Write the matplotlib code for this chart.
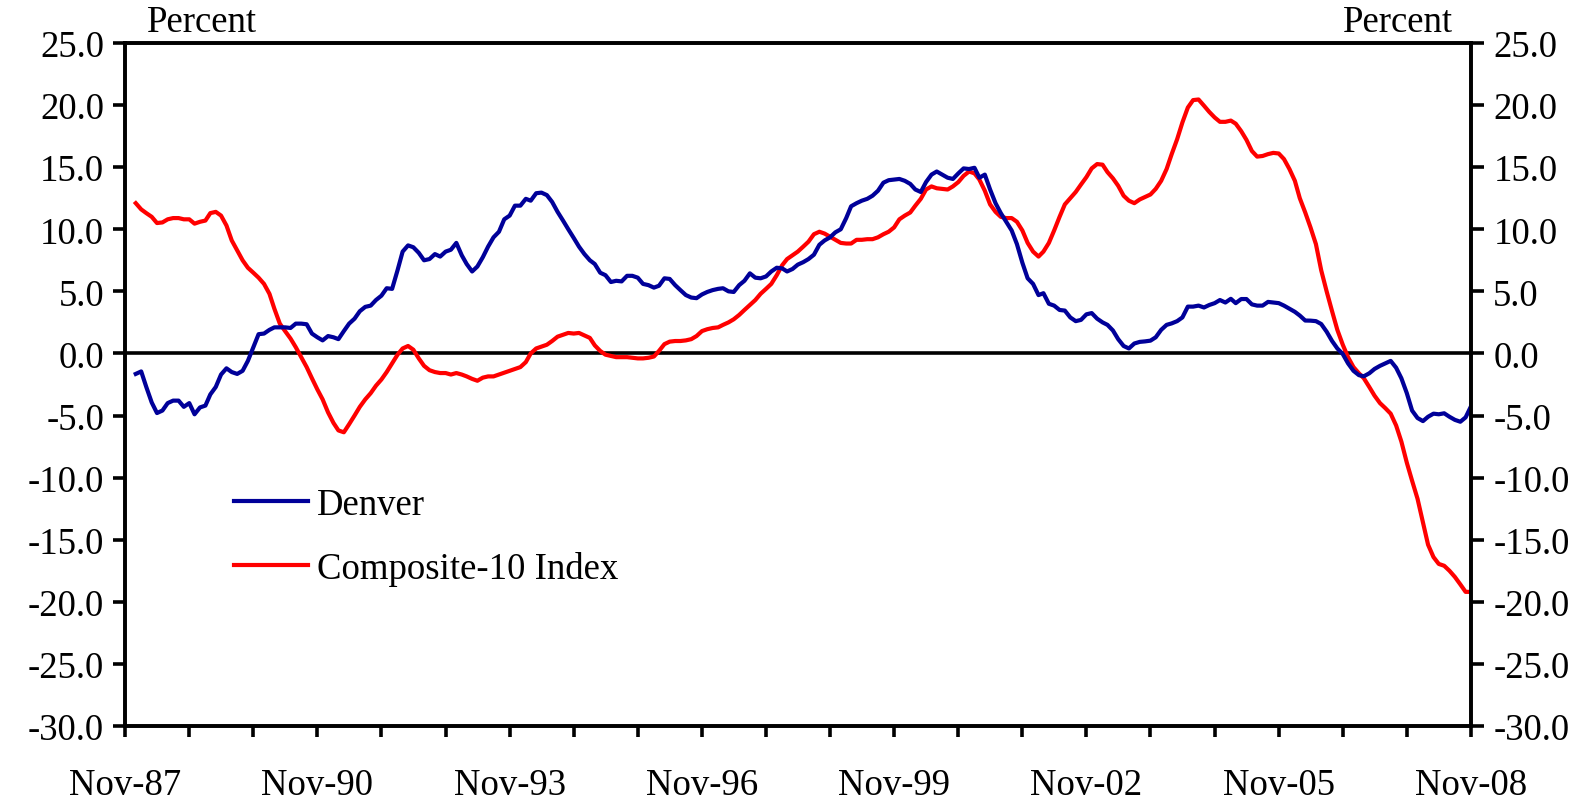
import pandas as pd
import matplotlib
matplotlib.use("Agg")
import matplotlib.pyplot as plt
import matplotlib.dates as mdates
from datetime import datetime

plt.rcParams['font.family'] = ['Liberation Serif', 'DejaVu Serif']
plt.rcParams['axes.unicode_minus'] = False

# monthly year-over-year % change, Jan-88 .. Nov-08 (one row per year)
denver = [
    -1.65, -1.45, -2.7, -3.95, -4.8, -4.6, -4.0, -3.8, -3.8, -4.3, -4.0, -4.9,      # 1988
    -4.35, -4.2, -3.3, -2.7, -1.7, -1.2, -1.5, -1.65, -1.4, -0.6, 0.5, 1.55,        # 1989
    1.6, 1.9, 2.1, 2.1, 2.1, 2.05, 2.4, 2.4, 2.35, 1.6, 1.3, 1.05,                  # 1990
    1.4, 1.3, 1.15, 1.8, 2.4, 2.8, 3.4, 3.75, 3.85, 4.3, 4.65, 5.25,                # 1991
    5.2, 6.7, 8.2, 8.7, 8.55, 8.1, 7.5, 7.6, 8.0, 7.8, 8.2, 8.35,                   # 1992
    8.9, 7.9, 7.2, 6.6, 7.0, 7.75, 8.6, 9.35, 9.8, 10.8, 11.1, 11.9,                # 1993
    11.9, 12.45, 12.3, 12.9, 12.95, 12.75, 12.2, 11.4, 10.7, 10.0, 9.3, 8.6,        # 1994
    8.0, 7.5, 7.2, 6.5, 6.3, 5.75, 5.85, 5.8, 6.25, 6.25, 6.1, 5.6,                 # 1995
    5.5, 5.3, 5.45, 6.05, 6.0, 5.5, 5.1, 4.7, 4.5, 4.45, 4.75, 4.95,                # 1996
    5.1, 5.2, 5.25, 5.0, 4.95, 5.5, 5.85, 6.45, 6.1, 6.05, 6.2, 6.6,                # 1997
    6.9, 6.85, 6.6, 6.8, 7.15, 7.35, 7.6, 7.95, 8.75, 9.1, 9.35, 9.75,              # 1998
    10.0, 10.9, 11.85, 12.1, 12.3, 12.45, 12.7, 13.1, 13.75, 13.95, 14.0, 14.05,    # 1999
    13.9, 13.65, 13.2, 13.0, 13.8, 14.4, 14.65, 14.4, 14.15, 14.05, 14.5, 14.9,     # 2000
    14.85, 14.95, 14.15, 14.4, 13.2, 12.1, 11.3, 10.6, 9.9, 8.8, 7.3, 6.05,         # 2001
    5.6, 4.7, 4.85, 4.0, 3.85, 3.5, 3.45, 2.9, 2.6, 2.7, 3.15, 3.25,                # 2002
    2.8, 2.5, 2.3, 1.85, 1.15, 0.6, 0.4, 0.8, 0.93, 0.97, 1.03, 1.3,                # 2003
    1.9, 2.3, 2.42, 2.6, 2.9, 3.77, 3.77, 3.85, 3.7, 3.9, 4.05, 4.3,                # 2004
    4.1, 4.4, 4.05, 4.38, 4.38, 3.95, 3.85, 3.85, 4.15, 4.1, 4.05, 3.85,            # 2005
    3.6, 3.35, 3.05, 2.65, 2.64, 2.6, 2.37, 1.75, 1.0, 0.4, -0.05, -0.8,            # 2006
    -1.4, -1.75, -1.84, -1.6, -1.25, -1.0, -0.8, -0.6, -1.15, -2.0, -3.2, -4.6,     # 2007
    -5.2, -5.45, -5.1, -4.85, -4.9, -4.82, -5.1, -5.35, -5.5, -5.15, -4.25,         # 2008
]

composite10 = [
    12.1, 11.6, 11.3, 11.0, 10.5, 10.55, 10.8, 10.9, 10.9, 10.8, 10.8, 10.45,       # 1988
    10.6, 10.7, 11.3, 11.4, 11.1, 10.3, 9.1, 8.3, 7.5, 6.9, 6.5, 6.1,               # 1989
    5.6, 4.8, 3.6, 2.4, 1.8, 1.2, 0.5, -0.3, -1.1, -2.0, -2.9, -3.7,                # 1990
    -4.75, -5.6, -6.2, -6.35, -5.7, -5.0, -4.3, -3.7, -3.2, -2.6, -2.1, -1.5,       # 1991
    -0.8, -0.1, 0.4, 0.6, 0.3, -0.4, -1.0, -1.35, -1.5, -1.58, -1.58, -1.7,         # 1992
    -1.58, -1.7, -1.85, -2.05, -2.2, -1.95, -1.85, -1.85, -1.7, -1.55, -1.4, -1.25, # 1993
    -1.1, -0.7, 0.0, 0.4, 0.55, 0.7, 1.0, 1.35, 1.5, 1.65, 1.6, 1.65,               # 1994
    1.45, 1.25, 0.65, 0.2, -0.1, -0.2, -0.3, -0.3, -0.3, -0.35, -0.4, -0.4,         # 1995
    -0.35, -0.25, 0.2, 0.75, 0.95, 1.0, 1.0, 1.05, 1.15, 1.4, 1.8, 1.95,            # 1996
    2.05, 2.1, 2.3, 2.5, 2.75, 3.1, 3.5, 3.9, 4.3, 4.8, 5.2, 5.6,                   # 1997
    6.3, 7.1, 7.6, 7.9, 8.2, 8.6, 9.0, 9.6, 9.8, 9.65, 9.4, 9.15,                   # 1998
    8.9, 8.85, 8.85, 9.15, 9.15, 9.2, 9.2, 9.35, 9.6, 9.8, 10.15, 10.8,             # 1999
    11.1, 11.35, 11.9, 12.45, 13.2, 13.45, 13.3, 13.25, 13.2, 13.45, 13.8, 14.3,    # 2000
    14.65, 14.5, 14.0, 13.1, 12.0, 11.4, 11.0, 10.9, 10.9, 10.6, 9.9, 8.9,          # 2001
    8.2, 7.8, 8.2, 8.9, 9.9, 11.0, 12.0, 12.5, 13.0, 13.6, 14.2, 14.9,              # 2002
    15.25, 15.2, 14.6, 14.1, 13.5, 12.7, 12.3, 12.1, 12.4, 12.6, 12.8, 13.25,       # 2003
    13.9, 14.85, 16.05, 17.25, 18.6, 19.8, 20.4, 20.45, 19.95, 19.45, 19.0, 18.65,  # 2004
    18.65, 18.75, 18.5, 17.9, 17.2, 16.3, 15.85, 15.9, 16.05, 16.15, 16.1, 15.65,   # 2005
    14.85, 13.9, 12.5, 11.35, 10.15, 8.8, 6.7, 5.0, 3.4, 1.9, 0.7, -0.3,            # 2006
    -1.1, -1.6, -2.0, -2.7, -3.4, -4.0, -4.4, -4.85, -5.8, -7.1, -8.8, -10.25,      # 2007
    -11.7, -13.6, -15.4, -16.4, -16.95, -17.1, -17.5, -18.0, -18.6, -19.2, -19.2,   # 2008
]

months = pd.date_range("1988-01-01", "2008-11-01", freq="MS")
y_ticks = [25, 20, 15, 10, 5, 0, -5, -10, -15, -20, -25, -30]
tick_fs = 26.5

fig = plt.figure(figsize=(15.91, 8.04), dpi=100)
ax = fig.add_axes([0.0786, 0.0958, 0.8460, 0.8495])

ax.axhline(0, color='black', lw=2.6, zorder=1)
ax.plot(months, denver, color='#000099', lw=3.0, label='Denver', zorder=3)
ax.plot(months, composite10, color='#ff0000', lw=3.0, label='Composite-10 Index', zorder=2)

ax.set_xlim(datetime(1987, 11, 1), datetime(2008, 11, 1))
ax.set_ylim(-30, 25)
ax.set_yticks(y_ticks)
ax.yaxis.set_major_formatter(matplotlib.ticker.FormatStrFormatter('%.1f'))

ax.xaxis.set_major_locator(mdates.MonthLocator(bymonth=11, interval=1))
ax.xaxis.set_major_formatter(
    matplotlib.ticker.FuncFormatter(
        lambda v, pos: mdates.num2date(v).strftime('Nov-%y')
        if (mdates.num2date(v).year - 1987) % 3 == 0 else ''))

for s in ax.spines.values():
    s.set_linewidth(2.6)
ax.tick_params(axis='x', direction='out', length=8, width=2.6, pad=22, labelsize=tick_fs)
ax.tick_params(axis='y', direction='out', length=9, width=2.6, pad=6, labelsize=tick_fs)

ax2 = ax.twinx()
ax2.set_ylim(-30, 25)
ax2.set_yticks(y_ticks)
ax2.yaxis.set_major_formatter(matplotlib.ticker.FormatStrFormatter('%.1f'))
ax2.tick_params(axis='y', direction='out', length=9, width=2.6, pad=7, labelsize=tick_fs)
for s in ax2.spines.values():
    s.set_linewidth(2.6)

leg = ax.legend(loc='center left', bbox_to_anchor=(0.081, 0.277), frameon=False,
                fontsize=tick_fs, handlelength=2.0, handletextpad=0.25,
                labelspacing=0.8, borderpad=0, borderaxespad=0)

fig.text(0.127, 0.972, 'Percent', ha='center', va='center', fontsize=tick_fs)
fig.text(0.879, 0.972, 'Percent', ha='center', va='center', fontsize=tick_fs)

fig.savefig('out.png', dpi=100)
